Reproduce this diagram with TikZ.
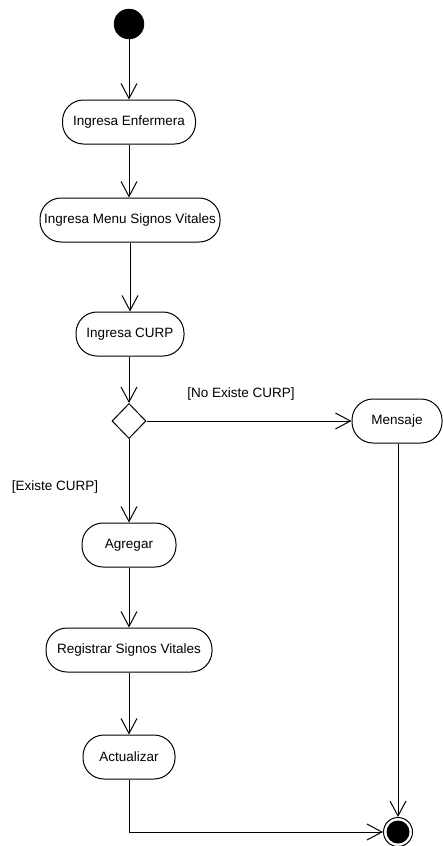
\documentclass[tikz,border=0pt]{standalone}
\usepackage{fontspec}
\setmainfont{Liberation Sans}
\usetikzlibrary{shapes}
\usetikzlibrary{arrows.meta}
\tikzset{
    actnode/.style = {rectangle, rounded corners=21pt, draw=black, line width=1pt, align=center, minimum height=44pt, inner sep=0pt, fill=white},
    startnode/.style = {circle, draw=black, fill=black, minimum size=30pt, inner sep=0pt},
    endnode/.style = {circle, draw=black, line width=1pt, minimum size=29pt, inner sep=0pt},
    decnode/.style = {diamond, draw=black, line width=1pt, minimum width=34pt, minimum height=35pt, inner sep=0pt},
    guard/.style = {draw=none, inner sep=0pt},
    edgea/.style = {-{Straight Barb[length=15pt,width=16pt,line width=1pt]}, line width=1pt},
    every picture/.style={font issue=\fontsize{13.5}{16}},
    font issue/.style={execute at begin picture={#1\selectfont}}
}
\begin{document}
\begin{tikzpicture}[x=1pt,y=-1pt]
\useasboundingbox (0,0) rectangle (442,846);
%
\node[startnode] at (129,24) (ini) {};
\node[actnode, minimum width=133pt] at (129,122) (enf) {Ingresa Enfermera};
\node[actnode, minimum width=180pt] at (130,220) (menu) {Ingresa Menu Signos Vitales};
\node[actnode, minimum width=108pt] at (130,334) (curp) {Ingresa CURP};
\node[decnode] at (129,421) (dec) {};
\node[actnode, minimum width=90pt] at (397,421) (msj) {Mensaje};
\node[actnode, minimum width=94pt] at (129,545) (agr) {Agregar};
\node[actnode, minimum width=166pt] at (129,650) (reg) {Registrar Signos Vitales};
\node[actnode, minimum width=92pt] at (129,757) (act) {Actualizar};
\node[endnode] at (398,832) (fin) {};
\fill (fin.center) circle (11.5pt);
\node[guard] at (241,394) (noex) {[No Existe CURP]};
\node[guard] at (55,487) (siex) {[Existe CURP]};
%
\draw[edgea] (ini) -- (enf);
\draw[edgea] (enf) -- (menu.north -| enf);
\draw[edgea] (menu) -- (curp);
\draw[edgea] (curp.south -| dec) -- (dec);
\draw[edgea] (dec) -- (msj);
\draw[edgea] (dec) -- (agr);
\draw[edgea] (agr) -- (reg);
\draw[edgea] (reg) -- (act);
\draw[edgea] (act) |- (fin);
\draw[edgea] (msj.south -| fin) -- (fin);
\end{tikzpicture}
\end{document}
